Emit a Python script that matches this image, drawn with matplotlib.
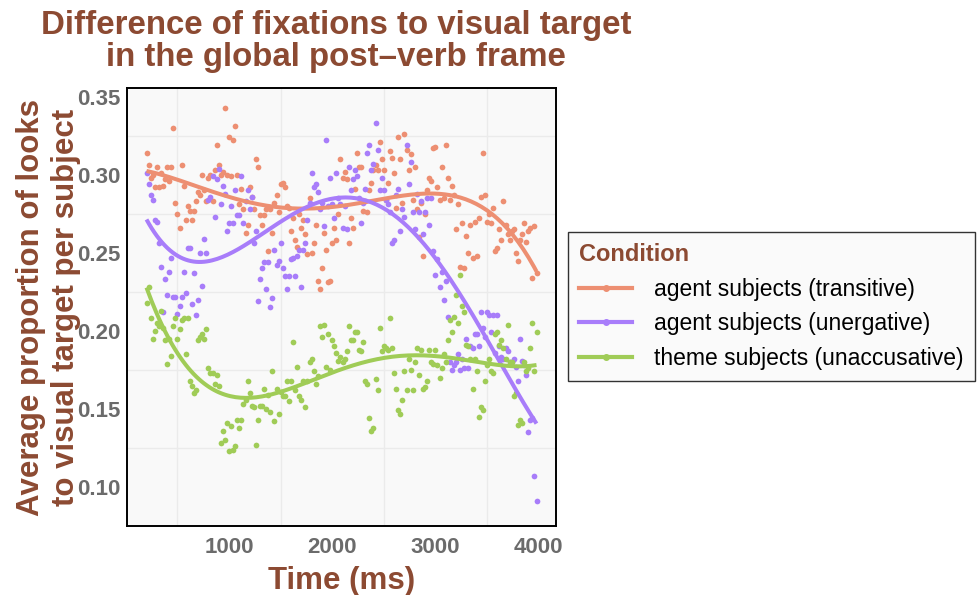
import numpy as np
import matplotlib
matplotlib.use("Agg")
import matplotlib.pyplot as plt
from matplotlib.lines import Line2D

plt.rcParams['font.family'] = ['Liberation Sans', 'DejaVu Sans']

# time bins (ms) shared by all three conditions
time_ms = np.arange(200, 4000, 20)

conditions = ["agent subjects (transitive)",
              "agent subjects (unergative)",
              "theme subjects (unaccusative)"]
colors = ["#ED8F72", "#A87DFA", "#A0CC57"]

transitive = [
    0.314, 0.306, 0.298, 0.300, 0.292, 0.305, 0.292, 0.301, 0.293, 0.297,
    0.305, 0.296, 0.305, 0.330, 0.282, 0.275, 0.266, 0.306, 0.293, 0.271,
    0.280, 0.277, 0.271, 0.277, 0.283, 0.289, 0.287,
    0.300, 0.290, 0.283, 0.298, 0.300, 0.283, 0.303, 0.319, 0.306, 0.300,
    0.302, 0.343, 0.300, 0.324, 0.299, 0.322, 0.331, 0.300, 0.281, 0.291,
    0.278, 0.263, 0.268, 0.292, 0.286, 0.278, 0.310, 0.305, 0.274, 0.268,
    0.274, 0.278, 0.251, 0.278,
    0.263, 0.282, 0.287, 0.276, 0.294, 0.295, 0.292, 0.280, 0.279, 0.264,
    0.272, 0.258, 0.254, 0.275, 0.266, 0.271, 0.262, 0.249, 0.285, 0.250,
    0.256, 0.268, 0.232, 0.227, 0.240, 0.263, 0.252, 0.231, 0.232, 0.256,
    0.266, 0.258, 0.275, 0.310, 0.298,
    0.302, 0.297, 0.256, 0.272, 0.266, 0.291, 0.314, 0.305, 0.305, 0.277,
    0.283, 0.276, 0.290, 0.295, 0.303, 0.306, 0.303, 0.321, 0.310, 0.303,
    0.284, 0.295, 0.315, 0.311, 0.301, 0.279, 0.324, 0.310, 0.282, 0.326,
    0.316, 0.303, 0.313, 0.284, 0.305,
    0.278, 0.260, 0.282, 0.248, 0.275, 0.290, 0.298, 0.296, 0.317, 0.318,
    0.292, 0.284, 0.305, 0.285, 0.319, 0.298, 0.284, 0.293, 0.287, 0.265,
    0.281, 0.241, 0.269, 0.240, 0.261, 0.250, 0.268, 0.247, 0.270, 0.248,
    0.272, 0.286, 0.314, 0.287, 0.270,
    0.275, 0.269, 0.279, 0.251, 0.253, 0.265, 0.258, 0.283, 0.268, 0.262,
    0.258, 0.264, 0.265, 0.250, 0.245, 0.258, 0.262, 0.269, 0.257, 0.264,
    0.266, 0.234, 0.267, 0.237,
]

unergative = [
    0.301, 0.294, 0.287, 0.284, 0.271, 0.270, 0.256, 0.241, 0.212, 0.233,
    0.223, 0.238, 0.247, 0.222, 0.222, 0.211, 0.216, 0.222, 0.238, 0.224,
    0.253, 0.253, 0.217, 0.237, 0.210, 0.220, 0.250,
    0.229, 0.259, 0.250, 0.284, 0.286, 0.299, 0.273, 0.297, 0.304, 0.281,
    0.293, 0.288, 0.264, 0.269, 0.280, 0.269, 0.290, 0.274, 0.274, 0.299,
    0.269, 0.283, 0.290, 0.278, 0.286, 0.256, 0.264, 0.219, 0.233, 0.240,
    0.244, 0.227, 0.244, 0.215,
    0.221, 0.252, 0.242, 0.245, 0.256, 0.240, 0.235, 0.227, 0.235, 0.246,
    0.247, 0.235, 0.248, 0.252, 0.228, 0.252, 0.256, 0.271, 0.282, 0.301,
    0.292, 0.294, 0.289, 0.278, 0.282, 0.267, 0.322, 0.280, 0.298, 0.281,
    0.272, 0.301, 0.285, 0.281, 0.266,
    0.280, 0.265, 0.305, 0.290, 0.297, 0.303, 0.299, 0.285, 0.269, 0.282,
    0.291, 0.314, 0.319, 0.303, 0.307, 0.333, 0.316, 0.290, 0.298, 0.290,
    0.284, 0.281, 0.276, 0.256, 0.258, 0.287, 0.291, 0.264, 0.278, 0.273,
    0.319, 0.294, 0.308, 0.276, 0.265,
    0.288, 0.276, 0.283, 0.262, 0.276, 0.285, 0.268, 0.285, 0.251, 0.236,
    0.246, 0.228, 0.238, 0.220, 0.232, 0.209, 0.180, 0.175, 0.178, 0.180,
    0.185, 0.175, 0.182, 0.176, 0.195, 0.176, 0.190, 0.189, 0.198, 0.198,
    0.190, 0.212, 0.202, 0.196, 0.212,
    0.210, 0.199, 0.210, 0.186, 0.210, 0.190, 0.183, 0.182, 0.189, 0.187,
    0.180, 0.180, 0.182, 0.177, 0.168, 0.195, 0.181, 0.178, 0.172, 0.135,
    0.143, 0.144, 0.107, 0.091,
]

unaccusative = [
    0.218, 0.228, 0.208, 0.195, 0.200, 0.205, 0.203, 0.213, 0.202, 0.194,
    0.179, 0.195, 0.184, 0.203, 0.208, 0.195, 0.201, 0.207, 0.208, 0.185,
    0.208, 0.168, 0.165, 0.160, 0.162, 0.194, 0.196,
    0.198, 0.195, 0.201, 0.176, 0.173, 0.173, 0.166, 0.172, 0.165, 0.128,
    0.136, 0.130, 0.141, 0.123, 0.139, 0.124, 0.126, 0.143, 0.138, 0.143,
    0.153, 0.156, 0.168, 0.160, 0.152, 0.151, 0.127, 0.143, 0.152, 0.152,
    0.163, 0.150, 0.159, 0.148,
    0.174, 0.142, 0.163, 0.147, 0.161, 0.158, 0.158, 0.168, 0.155, 0.168,
    0.193, 0.162, 0.177, 0.158, 0.156, 0.168, 0.151, 0.168, 0.180, 0.182,
    0.174, 0.166, 0.171, 0.203, 0.196, 0.204, 0.177, 0.198, 0.175, 0.194,
    0.190, 0.186, 0.181, 0.183, 0.180,
    0.182, 0.187, 0.203, 0.194, 0.194, 0.199, 0.199, 0.188, 0.187, 0.193,
    0.168, 0.166, 0.144, 0.136, 0.138, 0.169, 0.162, 0.202, 0.187, 0.190,
    0.189, 0.188, 0.208, 0.189, 0.173, 0.163, 0.149, 0.147, 0.156, 0.174,
    0.162, 0.182, 0.175, 0.162, 0.180,
    0.189, 0.172, 0.188, 0.163, 0.164, 0.168, 0.188, 0.180, 0.179, 0.188,
    0.178, 0.170, 0.176, 0.185, 0.180, 0.194, 0.207, 0.199, 0.209, 0.223,
    0.205, 0.236, 0.216, 0.212, 0.191, 0.190, 0.182, 0.163, 0.182, 0.174,
    0.145, 0.151, 0.149, 0.168, 0.178,
    0.182, 0.174, 0.173, 0.198, 0.199, 0.191, 0.194, 0.189, 0.182, 0.204,
    0.180, 0.180, 0.158, 0.160, 0.140, 0.143, 0.141, 0.180, 0.174, 0.176,
    0.189, 0.205, 0.174, 0.199,
]

series = [transitive, unergative, unaccusative]

x_ticks = [1000, 2000, 3000, 4000]
y_ticks = [0.10, 0.15, 0.20, 0.25, 0.30, 0.35]

brown = "#8C4A32"
tick_grey = "#6B6B6B"


def smooth(x, y, grid, deg=4):
    # least-squares polynomial trend on rescaled time
    x = np.asarray(x, float)
    mid, half = x.mean(), (x.max() - x.min()) / 2
    coef = np.polyfit((x - mid) / half, np.asarray(y, float), deg)
    return np.polyval(coef, (grid - mid) / half)


fig = plt.figure(figsize=(9.8, 5.95), dpi=100)
ax = fig.add_axes([127 / 980, 1 - 526 / 595, 429 / 980, 438 / 595])
ax.set_facecolor("#F9F9F9")

for vals, col in zip(series, colors):
    ax.scatter(time_ms, vals, s=17, color=col, linewidths=0, zorder=2)

grid_t = np.linspace(time_ms.min(), time_ms.max(), 150)
for vals, col in zip(series, colors):
    ax.plot(grid_t, smooth(time_ms, vals, grid_t), color=col, lw=2.9,
            solid_capstyle="butt", zorder=3)

all_y = np.concatenate([np.asarray(s) for s in series])
xr = time_ms.max() - time_ms.min()
yr = all_y.max() - all_y.min()
ax.set_xlim(time_ms.min() - 0.05 * xr, time_ms.max() + 0.05 * xr)
ax.set_ylim(all_y.min() - 0.05 * yr, all_y.max() + 0.05 * yr)

ax.set_xticks(x_ticks)
ax.set_yticks(y_ticks)
ax.set_yticklabels([f"{v:.2f}" for v in y_ticks])
ax.set_xticks([t - 500 for t in x_ticks], minor=True)
ax.set_yticks([v - 0.025 for v in y_ticks], minor=True)
ax.grid(False, which="major")
ax.grid(True, which="minor", color="#EBEBEB", lw=1.0)
ax.set_axisbelow(True)
ax.tick_params(which="both", length=0)
ax.tick_params(axis="y", labelsize=16, labelcolor=tick_grey, pad=5)
ax.tick_params(axis="x", labelsize=16, labelcolor=tick_grey, pad=8)
for lab in ax.get_xticklabels() + ax.get_yticklabels():
    lab.set_fontweight("bold")
for sp in ax.spines.values():
    sp.set_color("black")
    sp.set_linewidth(1.4)

ax.set_xlabel("Time (ms)", fontsize=22.5, fontweight="bold", color=brown,
              labelpad=6)
ax.set_ylabel("Average proportion of looks\nto visual target per subject",
              fontsize=22.5, fontweight="bold", color=brown, labelpad=-3,
              linespacing=1.2)

fig.text(336 / 980, 1 - 10 / 595,
         "Difference of fixations to visual target\nin the global post\u2013verb frame",
         ha="center", va="top", fontsize=23.8, fontweight="bold", color=brown,
         linespacing=1.05)

handles = [Line2D([0], [0], color=c, lw=3, marker="o", markersize=4)
           for c in colors]
leg = fig.legend(handles, conditions, title="Condition",
                 loc="upper left", bbox_to_anchor=(568 / 980, 1 - 232 / 595),
                 borderaxespad=0, fontsize=16.5, title_fontsize=17,
                 numpoints=1, handlelength=2.3, handletextpad=0.95,
                 labelspacing=0.5, borderpad=0.5, frameon=True,
                 fancybox=False, alignment="left")
leg.get_frame().set_edgecolor("black")
leg.get_frame().set_linewidth(1.0)
leg.get_frame().set_facecolor("#F9F9F9")
leg.get_title().set_color(brown)
leg.get_title().set_fontweight("bold")

fig.savefig("out.png", dpi=100)
